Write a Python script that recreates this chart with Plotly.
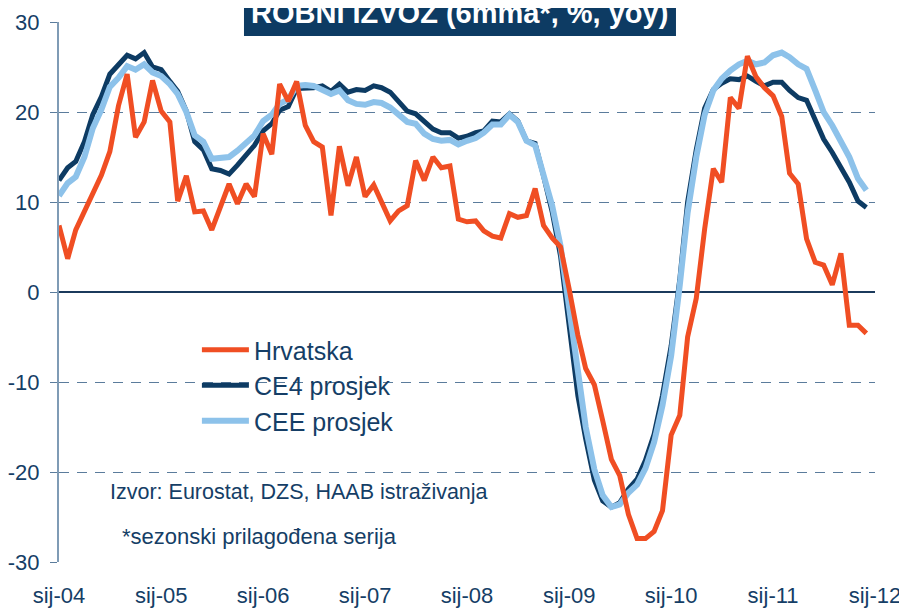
import plotly.graph_objects as go
import pandas as pd

months = pd.date_range("2004-01-01", periods=96, freq="MS")

hrvatska = [7.4, 3.7, 6.9, 8.9, 10.9, 13.0, 15.6, 20.7, 24.2, 17.2, 18.9, 23.5,
            20.1, 18.9, 10.1, 12.9, 8.9, 9.0, 6.9, 9.6, 12.0, 9.8, 12.0, 10.6,
            17.6, 15.3, 23.1, 21.2, 23.4, 18.5, 16.7, 16.1, 8.5, 16.2, 11.8, 15.0,
            10.6, 11.9, 10.0, 7.9, 9.0, 9.6, 14.6, 12.4, 15.0, 13.8, 14.0, 8.1,
            7.8, 7.9, 6.8, 6.2, 6.0, 8.7, 8.3, 8.5, 11.5, 7.4, 6.0, 5.0,
            0.3, -4.8, -8.5, -10.3, -14.3, -18.6, -20.4, -24.7, -27.4, -27.4, -26.6, -24.3,
            -15.9, -13.7, -5.0, -0.7, 7.0, 13.7, 12.2, 21.6, 20.4, 26.2, 23.9, 22.7,
            21.8, 19.5, 13.2, 12.0, 5.9, 3.3, 3.0, 0.8, 4.3, -3.7, -3.7, -4.6]

ce4 = [12.4, 13.8, 14.5, 16.7, 19.7, 21.7, 24.2, 25.2, 26.3, 25.9, 26.6, 25.0,
       24.7, 23.4, 22.3, 20.1, 16.7, 15.8, 13.7, 13.5, 13.1, 14.1, 15.3, 16.3,
       17.9, 18.7, 20.2, 20.6, 22.6, 22.6, 22.7, 22.9, 22.3, 23.1, 22.2, 22.5,
       22.4, 22.9, 22.7, 22.2, 21.1, 20.1, 19.8, 18.9, 18.1, 17.7, 17.7, 17.1,
       17.3, 17.7, 17.9, 19.0, 18.9, 19.8, 19.0, 16.8, 16.5, 12.9, 8.9, 4.0,
       -4.2, -11.5, -16.3, -20.9, -23.2, -23.9, -23.4, -21.9, -20.8, -18.7, -15.8, -11.5,
       -6.0, 1.4, 10.0, 15.8, 20.4, 22.5, 23.2, 23.7, 23.6, 24.0, 23.4, 22.9,
       23.3, 23.3, 22.4, 21.6, 21.3, 19.2, 17.0, 15.5, 13.8, 12.2, 10.1, 9.4]

cee = [10.7, 12.1, 12.8, 15.0, 18.2, 20.3, 22.8, 23.8, 25.1, 24.7, 25.3, 24.4,
       24.0, 23.1, 22.0, 20.0, 17.4, 16.7, 14.8, 14.9, 15.0, 15.7, 16.6, 17.4,
       19.0, 19.7, 20.9, 21.4, 22.9, 23.0, 22.9, 22.4, 22.0, 22.4, 21.3, 20.9,
       20.8, 21.1, 21.0, 20.5, 19.6, 18.9, 18.7, 17.6, 17.0, 16.8, 16.9, 16.4,
       16.8, 17.1, 17.7, 18.6, 18.6, 19.7, 18.9, 16.8, 16.3, 13.1, 9.6, 5.1,
       -2.0, -9.6, -15.0, -19.7, -22.6, -23.9, -23.6, -22.3, -21.4, -19.6, -16.7, -12.6,
       -7.1, 0.8, 8.8, 15.0, 19.7, 22.4, 23.7, 24.6, 25.3, 25.7, 25.3, 25.5,
       26.3, 26.6, 26.1, 25.3, 24.8, 22.4, 20.0, 18.5, 16.8, 15.0, 12.6, 11.3]

tick_dates = pd.date_range("2004-01-01", periods=9, freq="12MS")
tick_labels = ["sij-04", "sij-05", "sij-06", "sij-07", "sij-08", "sij-09", "sij-10", "sij-11", "sij-12"]
y_ticks = [-30, -20, -10, 0, 10, 20, 30]
y_tick_labels = ["-30", "-20", "-10", "0", "10", "20", "30"]

NAVY = "#0D3B63"
ORANGE = "#F04E23"
LIGHT = "#8DC2EA"
TXT = "#153E66"
GRID = "#5B7C9C"
FONT = "Liberation Sans, Arial, sans-serif"

fig = go.Figure()
fig.add_trace(go.Scatter(x=months, y=ce4, name="CE4 prosjek", mode="lines",
                         line=dict(color=NAVY, width=5), legendrank=2))
fig.add_trace(go.Scatter(x=months, y=cee, name="CEE prosjek", mode="lines",
                         line=dict(color=LIGHT, width=6), legendrank=3))
fig.add_trace(go.Scatter(x=months, y=hrvatska, name="Hrvatska", mode="lines",
                         line=dict(color=ORANGE, width=5), legendrank=1))

# page body has an 8px margin, so the figure is sized/margined to compensate
fig.update_layout(
    width=899, height=601,
    margin=dict(l=51, r=32, t=14, b=47),
    paper_bgcolor="white", plot_bgcolor="white",
    font=dict(family=FONT, color=TXT),
    showlegend=True,
    legend=dict(x=0.169, y=0.435, xanchor="left", yanchor="top",
                bgcolor="rgba(0,0,0,0)", font=dict(size=25, color=TXT),
                itemwidth=47, tracegroupgap=0),
    xaxis=dict(type="date", range=["2004-01-01", "2012-01-01"],
               tickvals=tick_dates, ticktext=tick_labels,
               showgrid=False, zeroline=False, showline=False,
               ticks="", tickfont=dict(size=22, color=TXT),
               ticklabelstandoff=18, automargin=False),
    yaxis=dict(range=[-30, 30], tickvals=y_ticks, ticktext=y_tick_labels,
               showgrid=True, gridcolor=GRID, gridwidth=1.3, griddash="10px,8px",
               zeroline=True, zerolinecolor="#1B3A5C", zerolinewidth=1.5,
               showline=True, linecolor="#7F9BB5", linewidth=2,
               ticks="outside", ticklen=7, tickcolor=GRID, tickwidth=1.3,
               tickfont=dict(size=22, color=TXT), ticklabelstandoff=6,
               automargin=False),
    shapes=[
        dict(type="rect", xref="paper", yref="paper",
             x0=0.055, x1=0.543, y0=0.245, y1=0.42,
             fillcolor="white", line=dict(width=0), layer="between"),
        dict(type="rect", xref="paper", yref="paper",
             x0=0.2267, x1=0.7561, y0=0.974, y1=1.06,
             fillcolor=NAVY, line=dict(width=0), layer="above"),
    ],
    annotations=[
        dict(text="<b>ROBNI IZVOZ (6mma*, %, yoy)</b>", xref="paper", yref="paper",
             x=0.4914, y=1.0167, xanchor="center", yanchor="middle", showarrow=False,
             font=dict(size=29, color="white", family=FONT)),
        dict(text="Izvor: Eurostat, DZS, HAAB istraživanja", xref="paper", yref="paper",
             x=0.06, y=0.1296, xanchor="left", yanchor="middle", showarrow=False,
             font=dict(size=21.5, color=TXT)),
        dict(text="*sezonski prilagođena serija", xref="paper", yref="paper",
             x=0.0748, y=0.048, xanchor="left", yanchor="middle", showarrow=False,
             font=dict(size=22, color=TXT)),
    ],
)

fig.write_html("out.html")
